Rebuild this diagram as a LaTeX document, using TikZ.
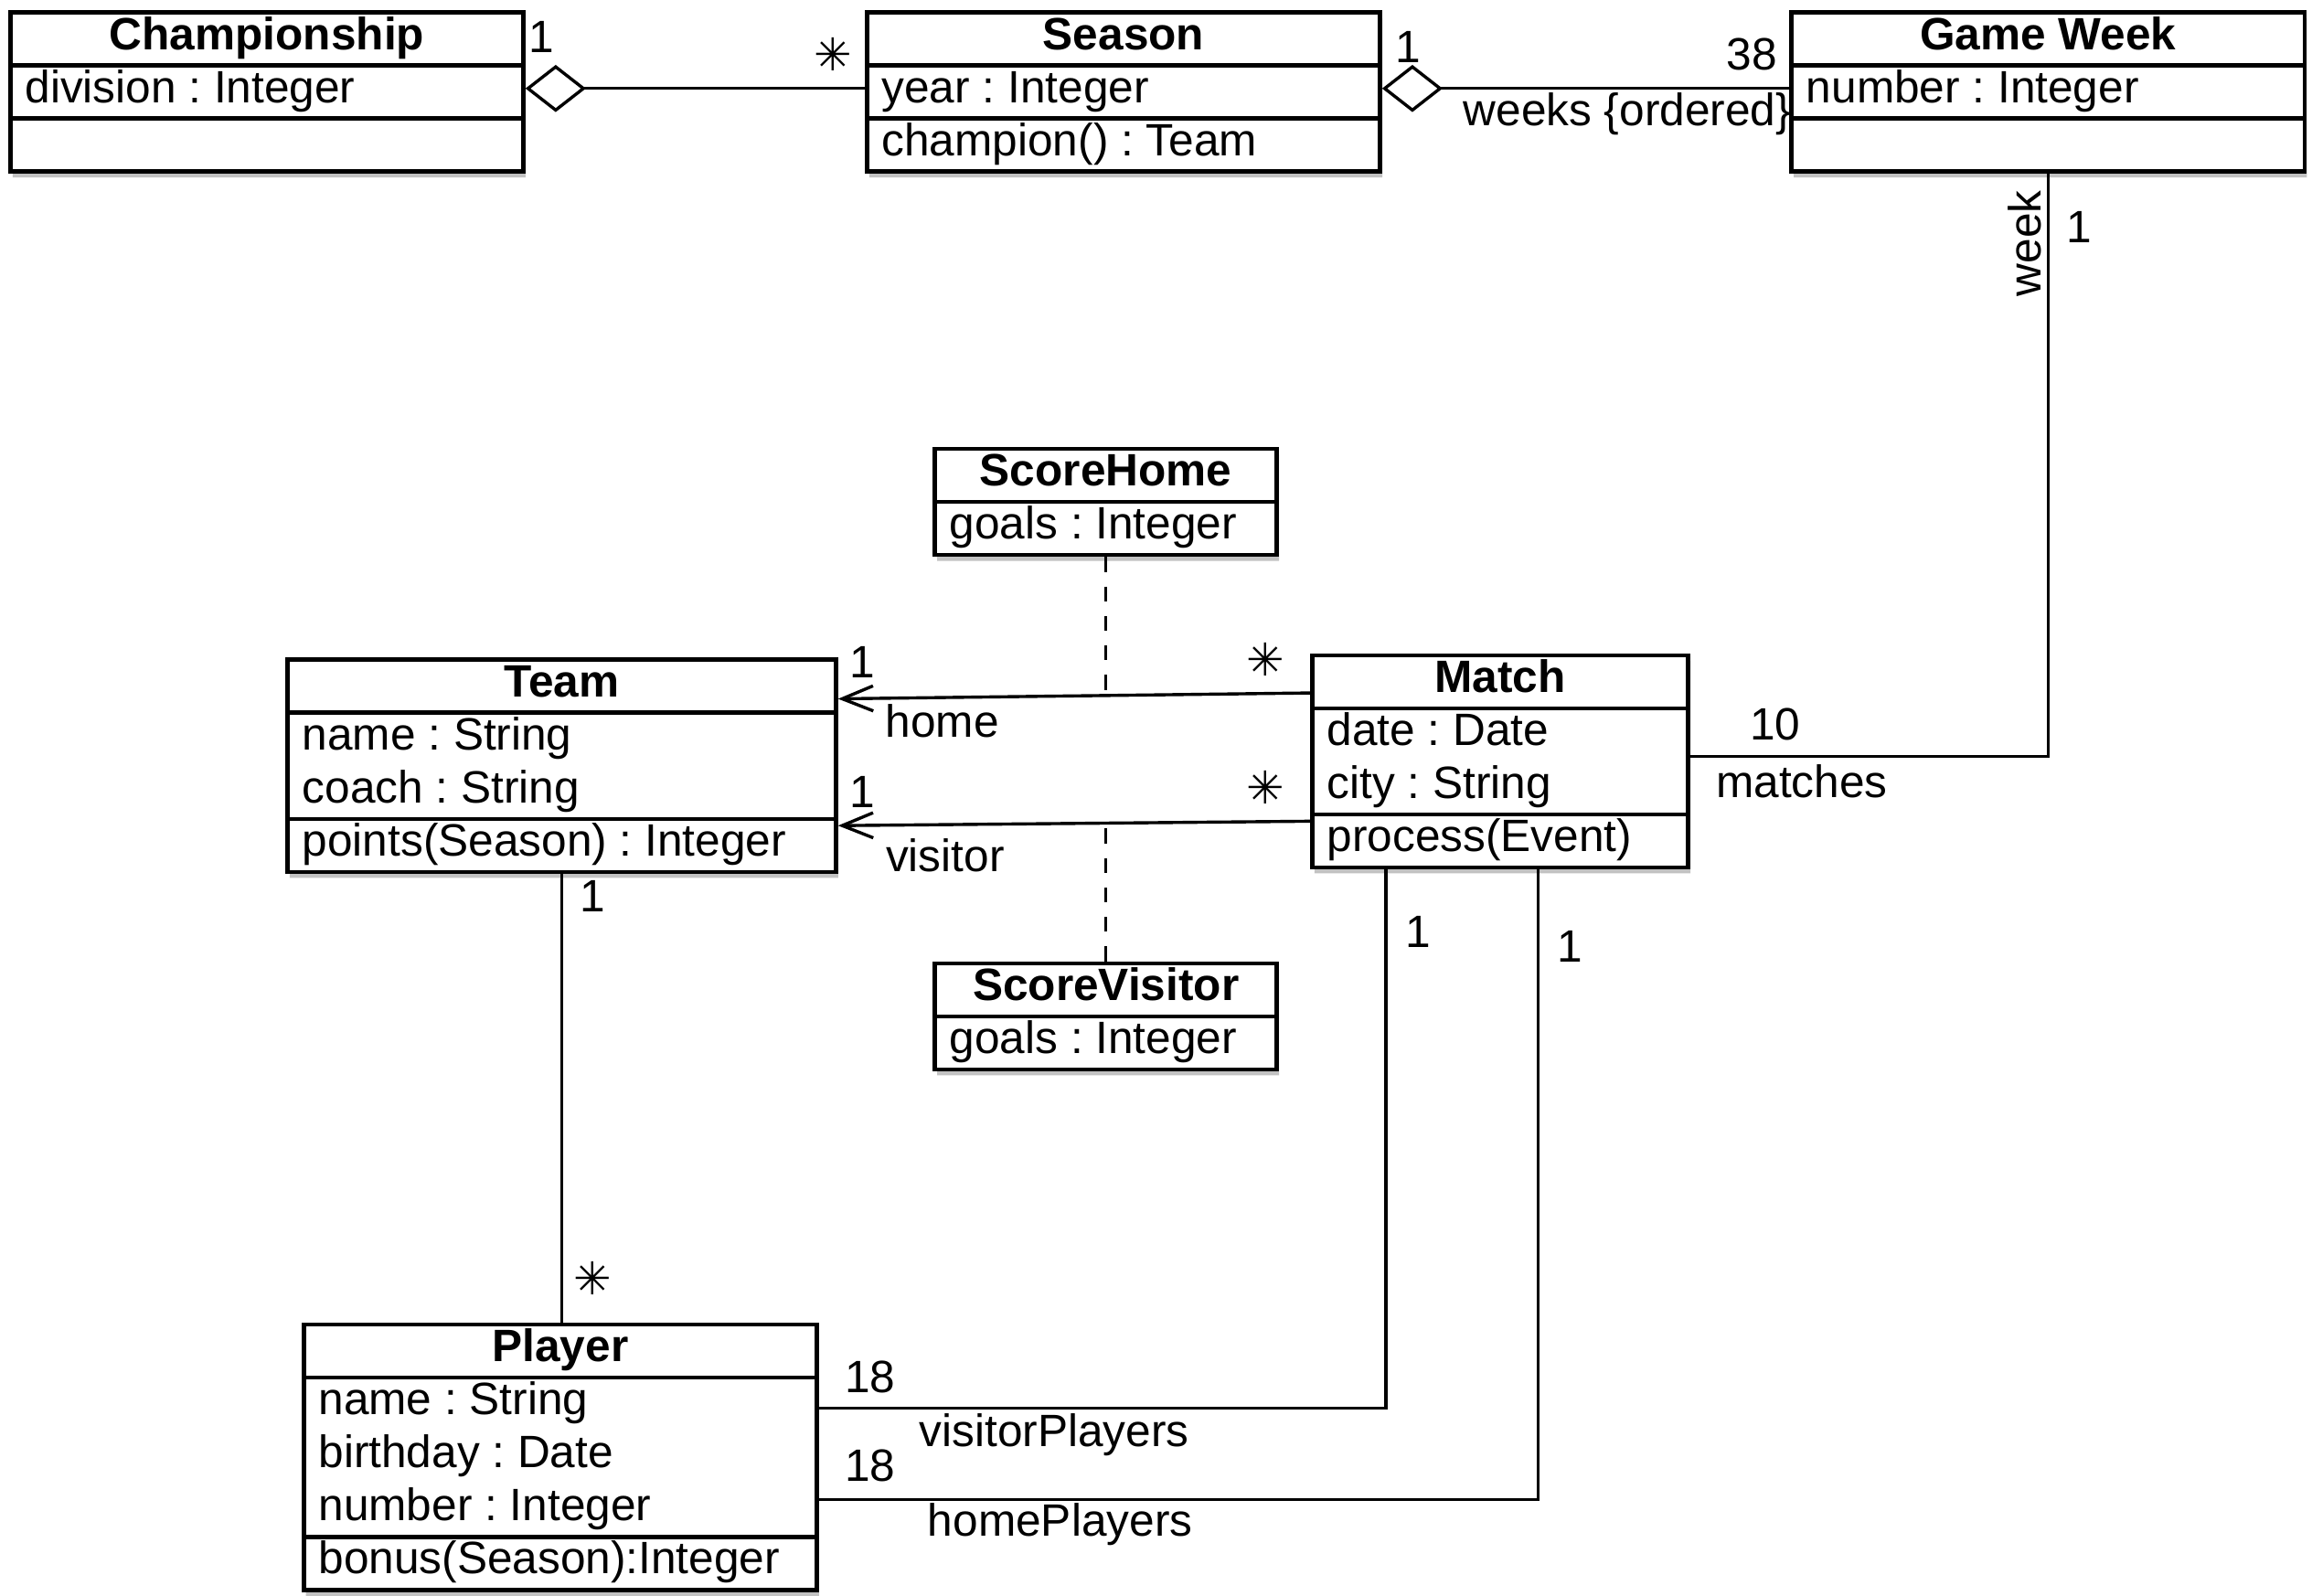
\documentclass[tikz,border=0pt]{standalone}
\usepackage{fontspec}
\setmainfont{Liberation Sans}
\newfontfamily\asterfont{DejaVu Sans}
\usetikzlibrary{arrows.meta, shapes.multipart, shadows}
\newcommand{\members}[1]{\begin{tabular}{@{}l@{}}#1\end{tabular}}
\newcommand{\multstar}{{\asterfont ✳}}
\frenchspacing

\begin{document}
\begin{tikzpicture}[
  x=0.02cm, y=-0.02cm,
  umlclass/.style={rectangle split, rectangle split parts=3, rectangle split part align={center,left,left}, draw, line width=1.6pt, fill=white, inner xsep=0.2cm, inner ysep=-0.8pt, anchor=north, font=\fontsize{17.5}{20.49}\selectfont, drop shadow={shadow xshift=0.03cm, shadow yshift=-0.08cm, fill=black!40, opacity=0.6}},
  lbl/.style={font=\fontsize{17.5}{20.49}\selectfont, inner sep=0pt},
  assoc/.style={line width=1.2pt},
  aggr/.style={assoc, {Diamond[open, length=0.82cm, width=0.64cm]}-},
  navig/.style={assoc, -{Straight Barb[length=0.42cm, width=0.34cm]}},
  dep/.style={line width=0.9pt, dash pattern=on 0.2cm off 0.2cm}
]
  \useasboundingbox (0,0) rectangle (1568,1082);

  % classes
  \node[umlclass, minimum width=6.96cm] (champ) at (181,7)
    {\strut\textbf{Championship} \nodepart{two}\strut division : Integer \nodepart{three}\strut};
  \node[umlclass, minimum width=6.96cm] (season) at (762,7)
    {\strut\textbf{Season} \nodepart{two}\strut year : Integer \nodepart{three}\strut champion() : Team};
  \node[umlclass, minimum width=6.96cm] (gweek) at (1389,7)
    {\strut\textbf{Game Week} \nodepart{two}\strut number : Integer \nodepart{three}\strut};
  \node[umlclass, rectangle split parts=2, minimum width=4.64cm] (scoreh) at (750,303)
    {\strut\textbf{ScoreHome} \nodepart{two}\strut goals : Integer};
  \node[umlclass, rectangle split parts=2, minimum width=4.64cm] (scorev) at (750,652)
    {\strut\textbf{ScoreVisitor} \nodepart{two}\strut goals : Integer};
  \node[umlclass, minimum width=7.44cm] (team) at (381,446)
    {\strut\textbf{Team} \nodepart{two}\members{name : String\\coach : String} \nodepart{three}\strut points(Season) : Integer};
  \node[umlclass, minimum width=5.1cm] (match) at (1017.5,443)
    {\strut\textbf{Match} \nodepart{two}\members{date : Date\\city : String} \nodepart{three}\strut process(Event)};
  \node[umlclass, minimum width=6.96cm] (player) at (380,897)
    {\strut\textbf{Player} \nodepart{two}\members{name : String\\birthday : Date\\number : Integer} \nodepart{three}\strut bonus(Season):Integer};

  % associations
  \draw[aggr] (champ.east |- 0,60) -- (season.west |- 0,60);
  \draw[aggr] (season.east |- 0,60) -- (gweek.west |- 0,60);
  \draw[assoc] (gweek.south) |- (match.east |- 0,513);
  \draw[navig] (match.west |- 0,470) -- coordinate[pos=0.44] (hm) (team.east |- 0,474);
  \draw[navig] (match.west |- 0,557) -- coordinate[pos=0.433] (vm) (team.east |- 0,560);
  \draw[dep] (scoreh.south) -- (scoreh.south |- hm);
  \draw[dep] (scorev.north) -- (scorev.north |- vm);
  \draw[assoc] (team.south) -- (team.south |- player.north);
  \draw[assoc] (940,0 |- match.south) |- (player.east |- 0,955);
  \draw[assoc] (1043,0 |- match.south) |- (player.east |- 0,1017);

  % multiplicities and roles
  \node[lbl] (champone) at (367,25) {1};
  \node[lbl] (seasonmany) at (565,37) {\multstar};
  \node[lbl] (seasonone) at (955,32) {1};
  \node[lbl] (weeksnum) at (1188,37) {38};
  \node[lbl, anchor=east] (weeksrole) at (1215,77) {weeks \{ordered\}};
  \node[lbl, rotate=90] (weekrole) at (1373,165) {week};
  \node[lbl] (weekone) at (1410,154) {1};
  \node[lbl] (matchesnum) at (1204,491) {10};
  \node[lbl] (matchesrole) at (1222,530) {matches};
  \node[lbl] (homeone) at (585,449) {1};
  \node[lbl] (homerole) at (639,489) {home};
  \node[lbl] (homemany) at (858,447) {\multstar};
  \node[lbl] (visitorone) at (585,537) {1};
  \node[lbl] (visitorrole) at (641,580) {visitor};
  \node[lbl] (visitormany) at (858,534) {\multstar};
  \node[lbl] (teamone) at (402,608) {1};
  \node[lbl] (playermany) at (402,867) {\multstar};
  \node[lbl] (vmatchone) at (962,632) {1};
  \node[lbl] (hmatchone) at (1065,642) {1};
  \node[lbl] (vplayersnum) at (590,934) {18};
  \node[lbl] (vplayersrole) at (715,973) {visitorPlayers};
  \node[lbl] (hplayersnum) at (590,994) {18};
  \node[lbl] (hplayersrole) at (719,1034) {homePlayers};
\end{tikzpicture}
\end{document}
